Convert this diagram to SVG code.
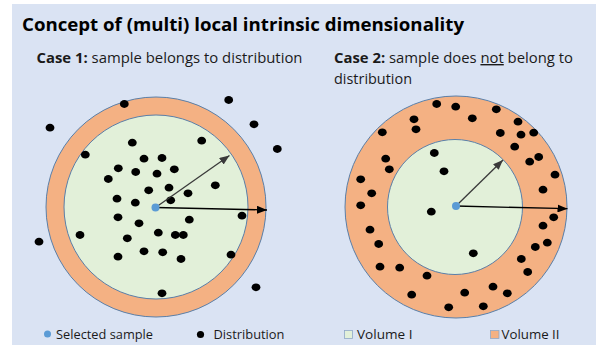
<svg xmlns="http://www.w3.org/2000/svg" width="596" height="345" viewBox="0 0 596 345">
  <defs>
    <style>
      .bg { fill: #DAE3F3; }
      .vol2 { fill: #F4B183; stroke: #5A7FA8; stroke-width: 1; }
      .vol1 { fill: #E2F0D9; stroke: #5A7FA8; stroke-width: 1; }
      .pt { fill: #000000; }
      .sel { fill: #5B9BD5; }
      .title { font-family: "Open Sans", "Liberation Sans", sans-serif; font-weight: bold; font-size: 18.5px; fill: #000000; }
      .case { font-family: "Open Sans", "Liberation Sans", sans-serif; font-size: 14px; fill: #1a1a1a; }
      .case .b { font-weight: bold; }
      .leg { font-family: "Open Sans", "Liberation Sans", sans-serif; font-size: 12px; fill: #1a1a1a; }
      .radius { fill: none; stroke: #3a3a3a; stroke-width: 1.3; }
      .radius.outer { stroke: #000000; }
    </style>
    <marker id="head-dark" viewBox="0 0 10 8" refX="10" refY="4" markerWidth="10" markerHeight="8" markerUnits="userSpaceOnUse" orient="auto">
      <path d="M0,0 L10,4 L0,8 Z" fill="#3a3a3a"/>
    </marker>
    <marker id="head-black" viewBox="0 0 10 8" refX="10" refY="4" markerWidth="10" markerHeight="8" markerUnits="userSpaceOnUse" orient="auto">
      <path d="M0,0 L10,4 L0,8 Z" fill="#000000"/>
    </marker>
    <ellipse id="d" rx="4.4" ry="3.9" class="pt"/>
  </defs>

  <rect class="bg" x="12" y="4" width="584" height="341"/>

  <g id="title">
    <text class="title" x="22" y="31" textLength="442" lengthAdjust="spacingAndGlyphs">Concept of (multi) local intrinsic dimensionality</text>
  </g>

  <!-- Case 1: the sample sits inside the bulk of the distribution -->
  <g id="case1">
    <text class="case" x="36.5" y="63" textLength="266" lengthAdjust="spacingAndGlyphs"><tspan class="b">Case 1:</tspan> sample belongs to distribution</text>
    <circle class="vol2" cx="156" cy="207" r="110"/>
    <circle class="vol1" cx="156" cy="207" r="92"/>
    <g id="case1-points">
      <use href="#d" x="124.3" y="104"/>
      <use href="#d" x="228.7" y="100"/>
      <use href="#d" x="50" y="127.7"/>
      <use href="#d" x="254" y="124.3"/>
      <use href="#d" x="277.3" y="149"/>
      <use href="#d" x="85.3" y="154.7"/>
      <use href="#d" x="132.3" y="142.7"/>
      <use href="#d" x="201.7" y="140.7"/>
      <use href="#d" x="144" y="158.7"/>
      <use href="#d" x="162" y="158"/>
      <use href="#d" x="118.3" y="168.3"/>
      <use href="#d" x="135.7" y="172"/>
      <use href="#d" x="157" y="173.7"/>
      <use href="#d" x="174.3" y="169.3"/>
      <use href="#d" x="108.3" y="179"/>
      <use href="#d" x="148.7" y="190.3"/>
      <use href="#d" x="169" y="187.7"/>
      <use href="#d" x="188" y="193.3"/>
      <use href="#d" x="215.3" y="185.3"/>
      <use href="#d" x="117" y="198.7"/>
      <use href="#d" x="135.3" y="202.7"/>
      <use href="#d" x="170.7" y="200.3"/>
      <use href="#d" x="118" y="217.3"/>
      <use href="#d" x="139" y="223.3"/>
      <use href="#d" x="189.3" y="219.7"/>
      <use href="#d" x="242" y="215.7"/>
      <use href="#d" x="80" y="235"/>
      <use href="#d" x="158.3" y="232.7"/>
      <use href="#d" x="175.3" y="235"/>
      <use href="#d" x="183.3" y="235"/>
      <use href="#d" x="127.3" y="238.3"/>
      <use href="#d" x="39" y="241.7"/>
      <use href="#d" x="118" y="256.7"/>
      <use href="#d" x="144" y="251.3"/>
      <use href="#d" x="162.7" y="252.3"/>
      <use href="#d" x="181" y="259"/>
      <use href="#d" x="231" y="254.7"/>
      <use href="#d" x="256" y="287.3"/>
      <use href="#d" x="162" y="293.3"/>
    </g>
  </g>

  <!-- Case 2: the sample sits in an empty pocket, points crowd the outer shell -->
  <g id="case2">
    <text class="case" x="334" y="63" textLength="239" lengthAdjust="spacingAndGlyphs"><tspan class="b">Case 2:</tspan> sample does <tspan text-decoration="underline">not</tspan> belong to</text>
    <text class="case" x="334" y="83.5" textLength="78" lengthAdjust="spacingAndGlyphs">distribution</text>
    <circle class="vol2" cx="456" cy="207" r="111"/>
    <circle class="vol1" cx="455" cy="207" r="67.5"/>
    <g id="case2-points">
      <use href="#d" x="436.7" y="104"/>
      <use href="#d" x="455.7" y="106.7"/>
      <use href="#d" x="496.3" y="109.3"/>
      <use href="#d" x="414" y="119.3"/>
      <use href="#d" x="472.3" y="118.3"/>
      <use href="#d" x="518" y="121.7"/>
      <use href="#d" x="416" y="129.3"/>
      <use href="#d" x="382.3" y="132.3"/>
      <use href="#d" x="500.3" y="133"/>
      <use href="#d" x="521" y="134.7"/>
      <use href="#d" x="533.7" y="132.7"/>
      <use href="#d" x="514.7" y="146.7"/>
      <use href="#d" x="434.3" y="153"/>
      <use href="#d" x="385.7" y="158.7"/>
      <use href="#d" x="538.7" y="157"/>
      <use href="#d" x="529.7" y="161.7"/>
      <use href="#d" x="389.3" y="169.3"/>
      <use href="#d" x="444" y="171.3"/>
      <use href="#d" x="555" y="174.7"/>
      <use href="#d" x="360.7" y="179.3"/>
      <use href="#d" x="371.7" y="193.3"/>
      <use href="#d" x="543" y="189.7"/>
      <use href="#d" x="360.7" y="205.3"/>
      <use href="#d" x="431.3" y="211.7"/>
      <use href="#d" x="553.7" y="217.3"/>
      <use href="#d" x="543" y="225.7"/>
      <use href="#d" x="370" y="229.7"/>
      <use href="#d" x="547.3" y="242.7"/>
      <use href="#d" x="378.7" y="244"/>
      <use href="#d" x="535.3" y="247"/>
      <use href="#d" x="473.3" y="253.3"/>
      <use href="#d" x="521.3" y="259"/>
      <use href="#d" x="380" y="266.7"/>
      <use href="#d" x="399.7" y="267.7"/>
      <use href="#d" x="527.7" y="272"/>
      <use href="#d" x="427" y="275.7"/>
      <use href="#d" x="493" y="286.7"/>
      <use href="#d" x="464.7" y="292.7"/>
      <use href="#d" x="507.3" y="293.3"/>
      <use href="#d" x="411.7" y="294.7"/>
      <use href="#d" x="448.7" y="307.3"/>
      <use href="#d" x="483.3" y="306.3"/>
    </g>
  </g>

  <!-- radius arrows from each selected sample -->
  <g id="connectors">
    <line class="radius" x1="155.5" y1="207.5" x2="229.5" y2="155.5" marker-end="url(#head-dark)"/>
    <line class="radius outer" x1="155.5" y1="207.5" x2="267" y2="210" marker-end="url(#head-black)"/>
    <line class="radius" x1="456" y1="206" x2="503" y2="160" marker-end="url(#head-dark)"/>
    <line class="radius outer" x1="456" y1="206" x2="567.5" y2="208.7" marker-end="url(#head-black)"/>
  </g>

  <g id="sample1"><circle class="sel" cx="155.5" cy="207.5" r="4"/></g>
  <g id="sample2"><circle class="sel" cx="456" cy="206" r="4"/></g>

  <g id="legend">
    <circle class="sel" cx="47.5" cy="334" r="3.5"/>
    <text class="leg" x="56" y="338.5" textLength="97" lengthAdjust="spacingAndGlyphs">Selected sample</text>
    <circle class="pt" cx="200.5" cy="334.5" r="3.6"/>
    <text class="leg" x="213.5" y="338.5" textLength="71" lengthAdjust="spacingAndGlyphs">Distribution</text>
    <rect x="344.5" y="330.5" width="8" height="8" fill="#E2F0D9" stroke="#8FA8C8" stroke-width="0.8"/>
    <text class="leg" x="357" y="338.5" textLength="55.5" lengthAdjust="spacingAndGlyphs">Volume I</text>
    <rect x="490.5" y="330.5" width="8.5" height="8" fill="#F4B183" stroke="#8FA8C8" stroke-width="0.8"/>
    <text class="leg" x="501.5" y="338.5" textLength="58" lengthAdjust="spacingAndGlyphs">Volume II</text>
  </g>
</svg>
